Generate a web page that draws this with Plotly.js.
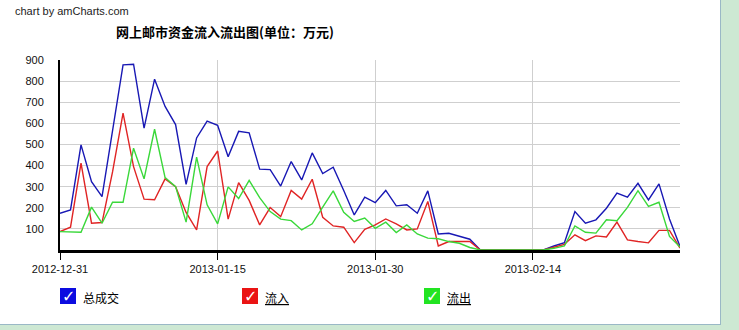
<!DOCTYPE html>
<html><head><meta charset="utf-8">
<script src="https://cdn.plot.ly/plotly-3.0.1.min.js"></script>
<style>
html,body{margin:0;padding:0;background:#cde8d3;width:739px;height:330px;overflow:hidden}
#wrap{position:absolute;left:0;top:0;width:720px;height:324px;background:#fff;border-right:1px solid #9ab8c6;border-bottom:1px solid #9ab8c6}
#chart{width:720px;height:324px}
</style></head><body><div id="wrap"><div id="chart"></div></div>
<script>
const dates = ['2012-12-31',
 '2013-01-01','2013-01-02','2013-01-03','2013-01-04','2013-01-05','2013-01-06','2013-01-07','2013-01-08','2013-01-09','2013-01-10',
 '2013-01-11','2013-01-12','2013-01-13','2013-01-14','2013-01-15','2013-01-16','2013-01-17','2013-01-18','2013-01-19','2013-01-20',
 '2013-01-21','2013-01-22','2013-01-23','2013-01-24','2013-01-25','2013-01-26','2013-01-27','2013-01-28','2013-01-29','2013-01-30','2013-01-31',
 '2013-02-01','2013-02-02','2013-02-03','2013-02-04','2013-02-05','2013-02-06','2013-02-07','2013-02-08','2013-02-09','2013-02-10',
 '2013-02-11','2013-02-12','2013-02-13','2013-02-14','2013-02-15','2013-02-16','2013-02-17','2013-02-18','2013-02-19','2013-02-20',
 '2013-02-21','2013-02-22','2013-02-23','2013-02-24','2013-02-25','2013-02-26','2013-02-27','2013-02-28'];

const total = [174,190,498,324,253,570,877,880,577,809,
 680,594,311,531,610,591,442,562,555,383,
 381,303,419,332,460,362,392,282,166,250,
 224,282,209,214,174,280,76,79,64,51,
 0,0,0,0,0,0,0,19,35,182,
 127,143,198,270,250,316,237,313,147,17];

const inflow = [87,108,411,127,130,370,648,395,241,238,
 337,300,178,95,395,469,146,319,235,119,
 201,158,282,241,335,155,114,108,35,98,
 119,147,124,95,100,230,19,40,40,40,
 0,0,0,0,0,0,0,13,27,72,
 44,67,62,132,48,40,34,93,93,9];

const outflow = [87,84,84,203,127,226,226,482,337,572,
 343,300,132,440,214,124,299,244,330,248,
 182,146,139,95,124,203,280,179,135,151,
 103,132,83,119,76,56,53,40,32,12,
 0,0,0,0,0,0,0,8,19,114,
 84,80,143,139,202,281,206,226,64,14];

const seriesNames = ['总成交','流入','流出'];
const tickDates = ['2012-12-31','2013-01-15','2013-01-30','2013-02-14'];
const yTicks = [100,200,300,400,500,600,700,800,900];
const chartTitle = '网上邮市资金流入流出图(单位：万元)';
const credit = 'chart by amCharts.com';

const lineColors = ['#1818b4','#e02424','#3ad83a'];
const boxColors = ['#0c0ce0','#ea1414','#22e422'];
const series = [total, inflow, outflow];

const traces = series.map((s,i)=>({
  x: dates, y: s, type:'scatter', mode:'lines', name: seriesNames[i],
  line:{color: lineColors[i], width:1.4}, hoverinfo:'x+y+name'
}));

// legend geometry (paper coords)
const W = 620, H = 190;
const boxLeft = [60, 242, 424];
const shapes = [], annotations = [];
boxLeft.forEach((bx,i)=>{
  shapes.push({type:'rect', xref:'paper', yref:'paper',
    x0:(bx-60)/W, x1:(bx+16-60)/W, y0:(250-304)/H, y1:(250-288)/H,
    fillcolor: boxColors[i], line:{width:0}});
  annotations.push({xref:'paper', yref:'paper', x:(bx+8-60)/W, y:(250-296)/H,
    text:'✓', showarrow:false, xanchor:'center', yanchor:'middle',
    font:{family:'DejaVu Sans', size:16, color:'#ffffff'}});
  const label = i===0 ? seriesNames[i] : '<span style="text-decoration:underline">'+seriesNames[i]+'</span>';
  annotations.push({xref:'paper', yref:'paper', x:(bx+21-60)/W, y:(250-297)/H,
    text: label, showarrow:false, xanchor:'left', yanchor:'middle',
    font:{family:'Noto Sans CJK SC', size:12, color:'#000'}});
});
annotations.push({xref:'paper', yref:'paper', x:(13-60)/W, y:(250-11)/H,
  text: credit, showarrow:false, xanchor:'left', yanchor:'middle',
  font:{family:'Liberation Sans, Arial', size:11, color:'#222'}});

const layout = {
  width:720, height:324,
  margin:{l:60, r:40, t:60, b:74},
  paper_bgcolor:'rgba(0,0,0,0)', plot_bgcolor:'rgba(0,0,0,0)',
  showlegend:false,
  title:{text: chartTitle, x:225/720, xanchor:'center', y:1-32/324, yanchor:'middle',
    font:{family:'Noto Sans CJK SC', size:13, color:'#000', weight:700}},
  xaxis:{type:'date', range:['2012-12-31','2013-02-28'], tickvals: tickDates, tickformat:'%Y-%m-%d',
    showgrid:true, gridcolor:'#cfcfcf', gridwidth:1, zeroline:false,
    showline:true, linecolor:'#000', linewidth:3,
    ticks:'outside', ticklen:7, tickwidth:1, tickcolor:'#000',
    tickfont:{family:'Liberation Sans, Arial', size:11, color:'#111'}},
  yaxis:{range:[0,900], tickvals: yTicks, showgrid:true, gridcolor:'#cfcfcf', gridwidth:1,
    zeroline:false, showline:true, linecolor:'#000', linewidth:2, ticks:'', ticklabelstandoff:12,
    tickfont:{family:'Liberation Sans, Arial', size:11, color:'#111'}},
  shapes: shapes, annotations: annotations
};
Plotly.newPlot('chart', traces, layout, {displayModeBar:false, staticPlot:true});
</script></body></html>
